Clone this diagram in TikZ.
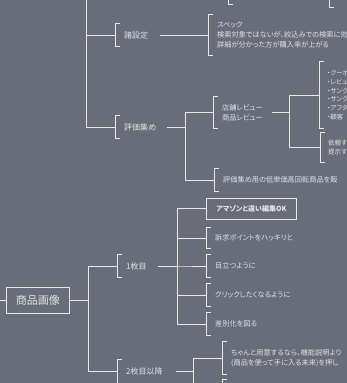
\documentclass[tikz,border=0pt]{standalone}
\usepackage{fontspec}
\setmainfont[RawFeature=+palt]{Noto Sans CJK JP}
\definecolor{bg}{HTML}{696D79}
\definecolor{lnc}{HTML}{E8E8E8}
\definecolor{txc}{HTML}{E2E2E4}
\newcommand{\mybrk}[1]{\draw[conn] ([xshift=5pt]#1.north west) -- (#1.north west) -- (#1.south west) -- ([xshift=5pt]#1.south west);}
\begin{document}
\begin{tikzpicture}[x=1pt,y=-1pt,
  conn/.style={draw=lnc, line width=1pt},
  lbl/.style={text=txc, font=\fontsize{7.2}{10}\selectfont, inner xsep=9pt, inner ysep=0pt, anchor=west, align=left},
  lvl/.style={lbl, font=\fontsize{8}{10}\selectfont},
  sm/.style={lbl, font=\fontsize{6.5}{8.7}\selectfont, inner xsep=8pt},
  boxed/.style={draw=lnc, line width=1pt, text=txc, font=\fontsize{7}{9}\selectfont\bfseries, minimum width=90pt, minimum height=21pt, inner sep=0pt, anchor=west},
  mainbox/.style={draw=lnc, line width=1pt, text=txc, font=\fontsize{11}{13}\selectfont, minimum width=63pt, minimum height=26pt, inner sep=0pt, anchor=west}
]
\fill[bg] (0,0) rectangle (347,383);
\clip (0,0) rectangle (347,383);

% upper part
\coordinate (top) at (86,-5);
\node[lbl, minimum height=20pt] (t1) at (228,-6) {};
\node[lbl, minimum height=20pt] (t2) at (329,-3) {};
\node[lvl, text width=27pt, minimum height=23pt] (s1) at (115,35) {諸設定};
\node[lbl, minimum height=40pt] (s1c) at (208,35) {スペック\\検索対象ではないが、絞込みでの検索に効\\詳細が分かった方が購入率が上がる};
\node[lvl, text width=34pt, minimum height=22pt] (s2) at (115,127) {評価集め};
\node[lbl, text width=41pt, minimum height=31pt] (r1) at (213,112.5) {店舗レビュー\\商品レビュー};
\node[sm, minimum height=66pt] (r1a) at (319,95) {・クーポ\\・レビュ\\・サンク\\・サンク\\・アフタ\\・顧客};
\node[sm, minimum height=29pt] (r1b) at (320,147.5) {依頼す\\提示す};
\node[lbl, minimum height=22pt] (r2) at (214,180) {評価集め用の低単価高回転商品を販};

% lower part
\coordinate (lin) at (-5,300);
\node[mainbox] (main) at (6,300) {商品画像};
\node[lvl, text width=23pt, minimum height=23pt] (p1) at (117,266) {1枚目};
\node[boxed] (p1a) at (206,208.5) {アマゾンと違い編集OK};
\node[lbl, minimum height=21pt] (p1b) at (206,238) {訴求ポイントをハッキリと};
\node[lbl, minimum height=22pt] (p1c) at (206,266) {目立つように};
\node[lbl, minimum height=22pt] (p1d) at (206,295) {クリックしたくなるように};
\node[lbl, minimum height=22pt] (p1e) at (206,324) {差別化を図る};
\node[lvl, text width=41pt, minimum height=23pt] (p2) at (117,371.5) {2枚目以降};
\node[lbl, minimum height=32pt] (p2a) at (222,358) {ちゃんと用意するなら、機能説明より\\(商品を使って手に入る未来)を押し};
\node[lbl, minimum height=24pt] (p2b) at (222,392) {};

% brackets
\foreach \n in {t1,t2,s1,s1c,s2,r1,r1a,r1b,r2,p1,p1b,p1c,p1d,p1e,p2,p2a,p2b}{\mybrk{\n}}

% connectors
\draw[conn] (top) |- (s1.west);
\draw[conn] (top) |- (s2.west);
\draw[conn] (s1.east) -- (s1c.west);
\draw[conn] (s2.east) -- ++(18,0) |- (r1.west);
\draw[conn] (s2.east) -- ++(18,0) |- (r2.west);
\draw[conn] (r1.east) -- ++(17,0) |- (r1a.west);
\draw[conn] (r1.east) -- ++(17,0) |- (r1b.west);
\draw[conn] (lin) -- (main.west);
\draw[conn] (main.east) -- ++(18,0) |- (p1.west);
\draw[conn] (main.east) -- ++(18,0) |- (p2.west);
\foreach \n in {p1a,p1b,p1c,p1d,p1e}{\draw[conn] (p1.east) -- ++(19,0) |- (\n.west);}
\draw[conn] (p2.east) -- ++(17,0) |- (p2a.west);
\draw[conn] (p2.east) -- ++(17,0) |- (p2b.west);
\end{tikzpicture}
\end{document}
